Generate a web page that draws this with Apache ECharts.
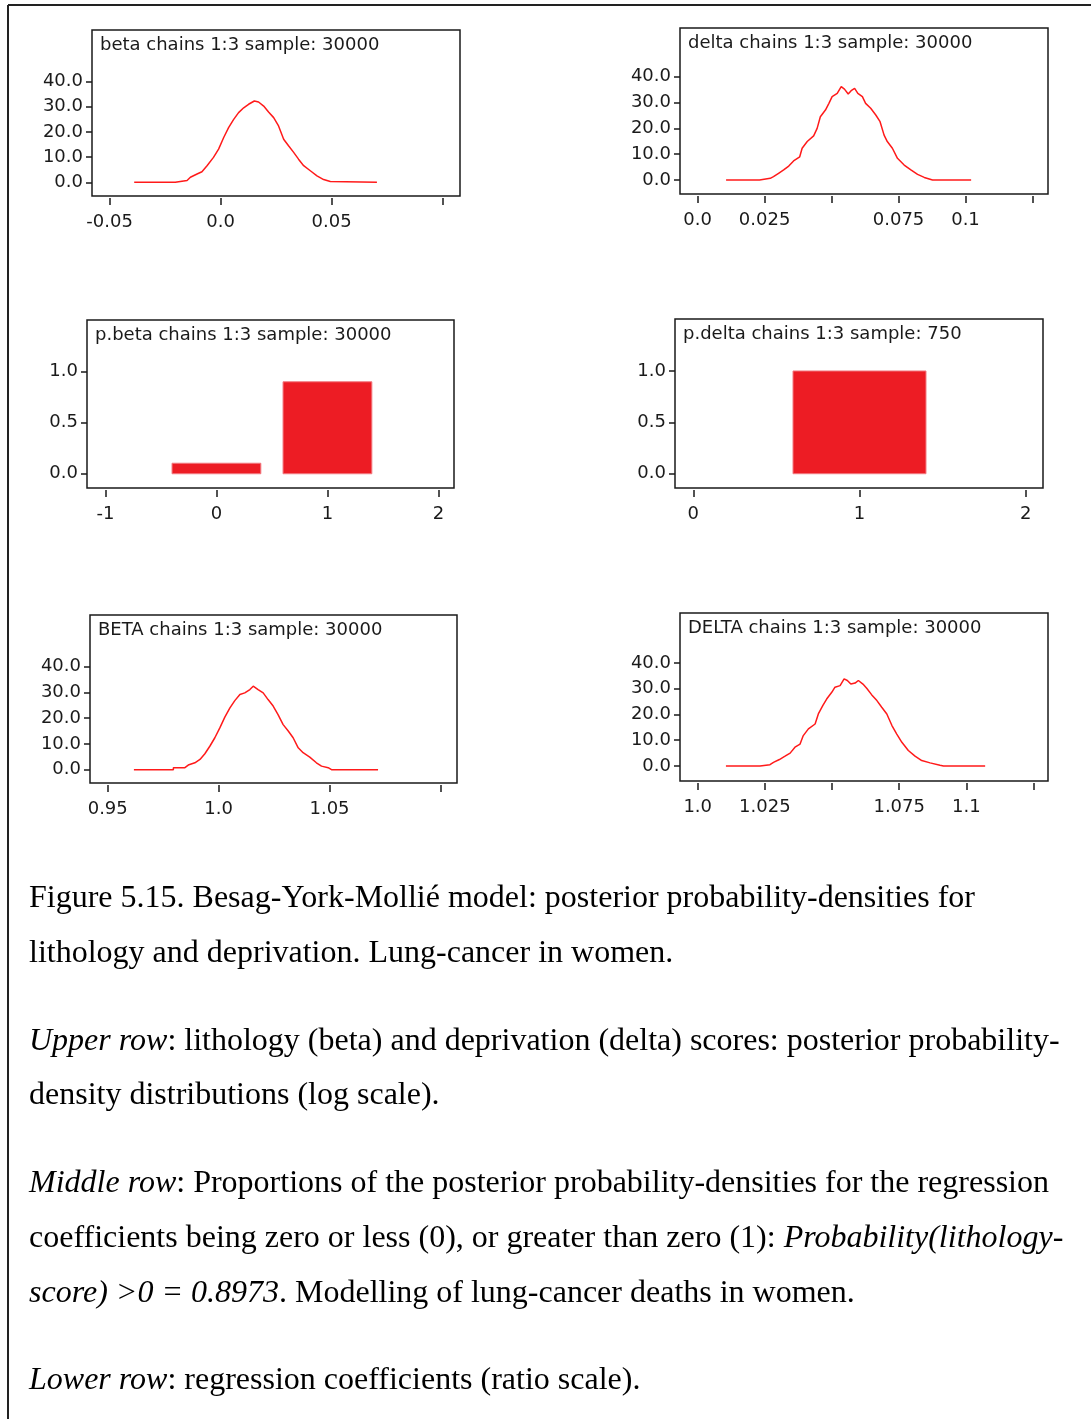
<!DOCTYPE html>
<html>
<head>
<meta charset="utf-8">
<title>Figure 5.15</title>
<script src="https://cdn.jsdelivr.net/npm/echarts@6/dist/echarts.min.js"></script>
<style>
  html, body { margin: 0; padding: 0; background: #fff; }
  #chart { width: 1091px; height: 1419px; }
</style>
</head>
<body>
<div id="chart"></div>
<script>
// posterior densities, [value, density]
const betaDensity = [
  [-0.0389, 0], [-0.0204, 0], [-0.0204, 0.7], [-0.0151, 0.7], [-0.0136, 2.0], [-0.0106, 3.3],
  [-0.0084, 4.2], [-0.0061, 6.6], [-0.0032, 9.9], [-0.0009, 13.2], [0.0014, 17.8], [0.0036, 21.7],
  [0.0059, 25.0], [0.0081, 27.7], [0.0104, 29.6], [0.0126, 31.0], [0.0152, 32.3], [0.0171, 31.9],
  [0.0194, 30.3], [0.0216, 27.9], [0.0239, 25.7], [0.0261, 22.4], [0.0284, 17.1], [0.0306, 14.5],
  [0.0329, 11.9], [0.0351, 9.2], [0.0374, 6.6], [0.0404, 4.6], [0.0434, 2.6], [0.0464, 1.1],
  [0.0494, 0.3], [0.0500, 0], [0.0704, 0]
]
const deltaDensity = [
  [0.0106, 0], [0.0231, 0], [0.0231, 0.65], [0.0271, 0.65], [0.0283, 1.3], [0.0302, 2.6],
  [0.0321, 3.9], [0.0340, 5.4], [0.0358, 7.4], [0.0381, 9.0], [0.0390, 12.3], [0.0409, 14.9],
  [0.0433, 17.1], [0.0446, 20.0], [0.0458, 24.5], [0.0477, 27.1], [0.0490, 29.7], [0.0502, 32.3],
  [0.0521, 33.6], [0.0536, 36.2], [0.0548, 35.2], [0.0562, 33.3], [0.0573, 34.6], [0.0586, 35.5],
  [0.0598, 33.6], [0.0615, 32.3], [0.0627, 29.7], [0.0646, 27.8], [0.0665, 25.2], [0.0681, 22.6],
  [0.0696, 17.4], [0.0708, 14.9], [0.0727, 12.3], [0.0746, 8.4], [0.0771, 5.8], [0.0796, 3.9],
  [0.0821, 2.2], [0.0846, 1.0], [0.0877, 0], [0.1021, 0]
]
const BETADensity = [
  [0.9618, 0], [0.9796, 0], [0.9796, 0.8], [0.9848, 0.8], [0.9863, 1.8], [0.9893, 2.7],
  [0.9916, 4.0], [0.9938, 6.2], [0.9961, 9.2], [0.9983, 12.4], [1.0006, 16.3], [1.0028, 20.4],
  [1.0051, 24.0], [1.0073, 26.8], [1.0096, 29.2], [1.0118, 29.8], [1.0141, 31.1], [1.0156, 32.4],
  [1.0178, 31.1], [1.0201, 29.8], [1.0223, 27.2], [1.0246, 24.7], [1.0268, 21.4], [1.0291, 17.5],
  [1.0314, 15.0], [1.0336, 12.4], [1.0359, 8.5], [1.0381, 6.6], [1.0411, 4.9], [1.0441, 2.7],
  [1.0464, 1.4], [1.0494, 0.8], [1.0509, 0], [1.0719, 0]
]
const DELTADensity = [
  [1.0105, 0], [1.0232, 0], [1.0232, 0.5], [1.0269, 0.5], [1.0282, 1.4], [1.0304, 2.5],
  [1.0325, 3.8], [1.0344, 5.0], [1.0362, 7.3], [1.0381, 8.5], [1.0393, 11.8], [1.0412, 14.4],
  [1.0437, 16.3], [1.0449, 20.2], [1.0466, 23.5], [1.0480, 26.0], [1.0499, 28.6], [1.0511, 30.6],
  [1.0530, 31.2], [1.0545, 33.8], [1.0557, 33.2], [1.0570, 31.8], [1.0586, 32.2], [1.0598, 33.2],
  [1.0615, 31.8], [1.0629, 30.2], [1.0648, 27.6], [1.0667, 25.4], [1.0685, 22.8], [1.0704, 20.2],
  [1.0723, 15.7], [1.0741, 12.4], [1.0760, 9.2], [1.0784, 6.0], [1.0809, 3.8], [1.0834, 2.1],
  [1.0865, 1.2], [1.0902, 0.3], [1.0915, 0], [1.1070, 0]
]

// proportions <= 0 (0) and > 0 (1)
const pBetaCats = [0, 1]
const pBetaProps = [0.1027, 0.8973]
const pDeltaCats = [1]
const pDeltaProps = [1.0]

// tick positions and labels
const densityTicks = [0, 10, 20, 30, 40]
const propTicks = [0, 0.5, 1]
const betaTicks = [-0.05, 0, 0.05, 0.1]
const betaTickLabels = ['-0.05', '0.0', '0.05', '']
const deltaTicks = [0, 0.025, 0.05, 0.075, 0.1, 0.125]
const deltaTickLabels = ['0.0', '0.025', '', '0.075', '0.1', '']
const pBetaTicks = [-1, 0, 1, 2]
const pBetaTickLabels = ['-1', '0', '1', '2']
const pDeltaTicks = [0, 1, 2]
const pDeltaTickLabels = ['0', '1', '2']
const BETATicks = [0.95, 1.0, 1.05, 1.1]
const BETATickLabels = ['0.95', '1.0', '1.05', '']
const DELTATicks = [1.0, 1.025, 1.05, 1.075, 1.1, 1.125]
const DELTATickLabels = ['1.0', '1.025', '', '1.075', '1.1', '']

const AXIS_FONT = '"DejaVu Sans", sans-serif'
const INK = '#1a1a1a'
const RED_LINE = '#ff1a1a'
const RED_BAR = '#ed1c24'
const BAR_HALF = 0.4

// box = [left, top, right, bottom] in px
const panels = [
  { title: 'beta chains 1:3 sample: 30000', box: [92, 30, 460, 196], x: [-0.0579, 0.1078], y: [-5.43, 60.5],
    xTicks: betaTicks, xLabels: betaTickLabels, yTicks: densityTicks, kind: 'line', data: betaDensity },
  { title: 'delta chains 1:3 sample: 30000', box: [680, 28, 1048, 194], x: [-0.0066, 0.1308], y: [-5.42, 58.9],
    xTicks: deltaTicks, xLabels: deltaTickLabels, yTicks: densityTicks, kind: 'line', data: deltaDensity },
  { title: 'p.beta chains 1:3 sample: 30000', box: [87, 320, 454, 488], x: [-1.166, 2.14], y: [-0.139, 1.5],
    xTicks: pBetaTicks, xLabels: pBetaTickLabels, yTicks: propTicks, kind: 'bar', cats: pBetaCats, props: pBetaProps },
  { title: 'p.delta chains 1:3 sample: 750', box: [675, 319, 1043, 488], x: [-0.11, 2.104], y: [-0.139, 1.506],
    xTicks: pDeltaTicks, xLabels: pDeltaTickLabels, yTicks: propTicks, kind: 'bar', cats: pDeltaCats, props: pDeltaProps },
  { title: 'BETA chains 1:3 sample: 30000', box: [90, 615, 457, 783], x: [0.942, 1.1075], y: [-5.15, 60.0],
    xTicks: BETATicks, xLabels: BETATickLabels, yTicks: densityTicks, kind: 'line', data: BETADensity },
  { title: 'DELTA chains 1:3 sample: 30000', box: [680, 613, 1048, 781], x: [0.9934, 1.1304], y: [-5.83, 59.4],
    xTicks: DELTATicks, xLabels: DELTATickLabels, yTicks: densityTicks, kind: 'line', data: DELTADensity }
]

const grid = []
const xAxis = []
const yAxis = []
const series = []
const title = []

panels.forEach((p, i) => {
  const [l, t, r, b] = p.box
  grid.push({
    left: l, top: t, width: r - l, height: b - t,
    show: true, borderColor: INK, borderWidth: 1.5, backgroundColor: 'transparent'
  })
  title.push({
    text: p.title, left: l + 8, top: t + 6, padding: 0,
    textStyle: { fontFamily: AXIS_FONT, fontSize: 18, fontWeight: 'normal', color: INK }
  })
  xAxis.push({
    type: 'value', gridIndex: i, min: p.x[0], max: p.x[1], offset: 2, position: 'bottom',
    axisLine: { show: false, onZero: false },
    splitLine: { show: false },
    axisTick: { show: true, length: 7, customValues: p.xTicks, lineStyle: { color: INK, width: 1.5 } },
    axisLabel: {
      customValues: p.xTicks, margin: 24, verticalAlign: 'middle',
      fontFamily: AXIS_FONT, fontSize: 18, color: INK,
      formatter: v => {
        const k = p.xTicks.findIndex(tv => Math.abs(tv - v) < 1e-9)
        return k < 0 ? '' : p.xLabels[k]
      }
    }
  })
  yAxis.push({
    type: 'value', gridIndex: i, min: p.y[0], max: p.y[1], position: 'left',
    axisLine: { show: false, onZero: false },
    splitLine: { show: false },
    axisTick: { show: true, length: 6, customValues: p.yTicks, lineStyle: { color: INK, width: 1.5 } },
    axisLabel: {
      customValues: p.yTicks, margin: 9,
      fontFamily: AXIS_FONT, fontSize: 18, color: INK,
      formatter: v => v.toFixed(1)
    }
  })
  if (p.kind === 'line') {
    series.push({
      type: 'line', xAxisIndex: i, yAxisIndex: i, data: p.data,
      showSymbol: false, silent: true,
      lineStyle: { color: RED_LINE, width: 1.5 }
    })
  } else {
    series.push({
      type: 'custom', xAxisIndex: i, yAxisIndex: i,
      data: p.cats.map((c, k) => [c, p.props[k]]),
      renderItem(params, api) {
        const c = api.value(0)
        const v = api.value(1)
        const a = api.coord([c - BAR_HALF, v])
        const z = api.coord([c + BAR_HALF, 0])
        return {
          type: 'rect',
          shape: { x: a[0], y: a[1], width: z[0] - a[0], height: z[1] - a[1] },
          style: { fill: RED_BAR, stroke: '#f27a80', lineWidth: 1 }
        }
      }
    })
  }
})

// caption lines: [y, rich text]
const SERIF = '"Liberation Serif", "Times New Roman", serif'
const captionLines = [
  [899, '{n|Figure 5.15. Besag-York-Mollié model: posterior probability-densities for}'],
  [954, '{n|lithology and deprivation. Lung-cancer in women.}'],
  [1042, '{i|Upper row}{n|: lithology (beta) and deprivation (delta) scores: posterior probability-}'],
  [1096, '{n|density distributions (log scale).}'],
  [1184, '{i|Middle row}{n|: Proportions of the posterior probability-densities for the regression}'],
  [1239, '{n|coefficients being zero or less (0), or greater than zero (1): }{i|Probability(lithology-}'],
  [1294, '{i|score) >0 = 0.8973}{n|. Modelling of lung-cancer deaths in women.}'],
  [1381, '{i|Lower row}{n|: regression coefficients (ratio scale).}']
]
const captionRich = {
  n: { fontFamily: SERIF, fontSize: 32, color: '#000' },
  i: { fontFamily: SERIF, fontSize: 32, fontStyle: 'italic', color: '#000' }
}

const graphic = [
  { type: 'line', shape: { x1: 8, y1: 5, x2: 1091, y2: 5 }, style: { stroke: '#222', lineWidth: 2 } },
  { type: 'line', shape: { x1: 8, y1: 5, x2: 8, y2: 1419 }, style: { stroke: '#222', lineWidth: 2 } }
]
captionLines.forEach(([y, text]) => {
  graphic.push({
    type: 'text', x: 29, y: y,
    style: { text: text, rich: captionRich, verticalAlign: 'middle', fontFamily: SERIF, fontSize: 32 }
  })
})

const chart = echarts.init(document.getElementById('chart'))
chart.setOption({
  animation: false,
  backgroundColor: '#fff',
  title: title,
  grid: grid,
  xAxis: xAxis,
  yAxis: yAxis,
  series: series,
  graphic: graphic
})
</script>
</body>
</html>
